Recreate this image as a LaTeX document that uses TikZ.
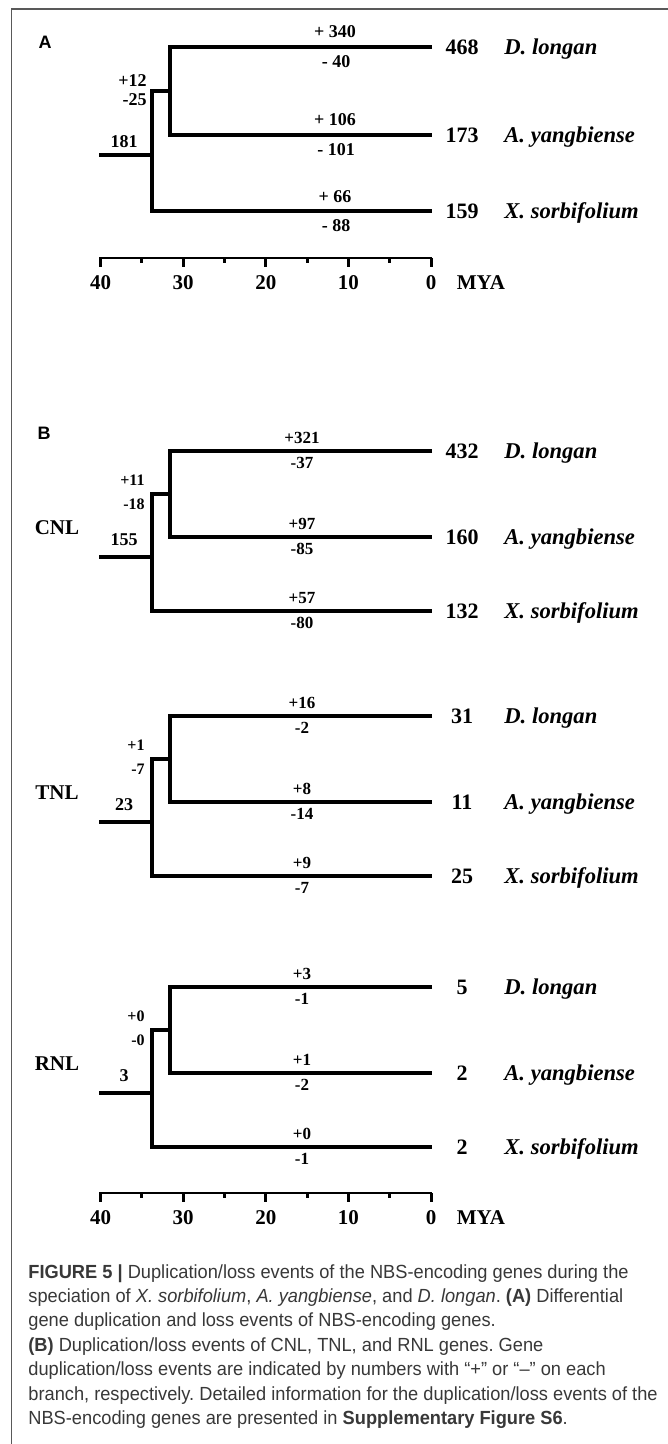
\documentclass[tikz,border=0pt]{standalone}
\usepackage{fontspec}
\setmainfont{Liberation Serif}
\newfontfamily\capsans{Liberation Sans}[FakeStretch=0.96]
\newfontfamily\panelsans{Liberation Sans}
\frenchspacing

\definecolor{framegray}{gray}{0.35}
\definecolor{captext}{gray}{0.22}

\tikzset{
  branch/.style={line width=2.2pt, line join=miter},
  axisline/.style={line width=1.4pt, line cap=rect},
  axtick/.style={line width=1.5pt},
  panel/.style={font=\panelsans\fontsize{9}{9}\selectfont\bfseries, inner sep=0pt},
  cnt/.style={font=\fontsize{11}{11}\selectfont\bfseries, inner sep=0pt, anchor=base},
  spc/.style={font=\fontsize{11.3}{11.3}\selectfont\bfseries\itshape, inner sep=0pt, anchor=base west},
  evtA/.style={font=\fontsize{9}{9}\selectfont\bfseries, inner sep=0pt},
  evtB/.style={font=\fontsize{8.5}{8.5}\selectfont\bfseries, inner sep=0pt},
  rootlbl/.style={font=\fontsize{9}{9}\selectfont\bfseries, inner sep=0pt},
  innA/.style={font=\fontsize{9}{9}\selectfont\bfseries, inner sep=0pt, anchor=east},
  innB/.style={font=\fontsize{8}{8}\selectfont\bfseries, inner sep=0pt, anchor=east},
  grp/.style={font=\fontsize{10.5}{10.5}\selectfont\bfseries, inner sep=0pt},
  axlbl/.style={font=\fontsize{10.5}{10.5}\selectfont\bfseries, inner sep=0pt},
  captxt/.style={font=\capsans\fontsize{9.5}{11}\selectfont, text=captext, inner sep=0pt, anchor=base west},
}

% time axis: #1 name prefix, #2 vertical position
\newcommand\timeaxis[2]{%
  \coordinate (#1-40) at (100.6,#2);
  \coordinate (#1-0) at (431,#2);
  \draw[axisline] (#1-40) -- (#1-0);
  \foreach \t in {0,10,20,30,40}{%
    \draw[axtick] ({431-8.26*\t},#2) -- ++(0,9);
    \node[axlbl] (#1-l\t) at ({431-8.26*\t},{#2+25}) {\t};
  }
  \foreach \t in {5,15,25,35}{%
    \draw[axtick] ({431-8.26*\t},#2) -- ++(0,5);
  }
  \node[axlbl] (#1-mya) at (481,{#2+25}) {MYA};
}

% one gene-class tree: #1 prefix, #2 top branch, #3 class, #4 root count, #5 gain, #6 loss
\newcommand\treeB[6]{%
  \node[grp] (#1-grp) at (57,{#2+77}) {#3};
  \coordinate (#1-base) at (99,{#2+106});
  \coordinate (#1-root) at (152,{#2+106});
  \coordinate (#1-in) at (170,{#2+43});
  \coordinate (#1-dl) at (432,#2);
  \coordinate (#1-ay) at (432,{#2+86});
  \coordinate (#1-xs) at (432,{#2+160});
  \draw[branch] (#1-base) -- (#1-root);
  \draw[branch] (#1-in) -| (#1-root) |- (#1-xs);
  \draw[branch] (#1-dl) -| (#1-in) |- (#1-ay);
  \node[rootlbl] (#1-r) at (124,{#2+89}) {#4};
  \node[innB] (#1-g) at (145,{#2+29}) {#5};
  \node[innB] (#1-l) at (145,{#2+53}) {#6};
}

% tip annotations: #1 prefix, #2 branch height, #3 count, #4 species, #5 gain, #6 loss
\newcommand\tipB[6]{%
  \node[cnt] (#1-n) at (462,{#2+7.3}) {#3};
  \node[spc] (#1-s) at (504,{#2+7.3}) {#4};
  \node[evtB] (#1-g) at (302,{#2-13}) {#5};
  \node[evtB] (#1-l) at (302,{#2+12}) {#6};
}

\begin{document}
\begin{tikzpicture}[x=0.5pt,y=-0.5pt]
\useasboundingbox (0,0) rectangle (668,1444);
\fill[white] (0,0) rectangle (668,1444);

% page frame (top and left rules)
\coordinate (fr-tr) at (668,9);
\coordinate (fr-tl) at (11.5,9);
\coordinate (fr-bl) at (11.5,1444);
\draw[framegray, line width=0.6pt] (fr-tr) -- (fr-tl) -- (fr-bl);

% ---------------- panel A: all NBS-encoding genes ----------------
\node[panel] (lblA) at (45,42) {A};
\coordinate (A-base) at (99,155);
\coordinate (A-root) at (152,155);
\coordinate (A-in) at (170,91);
\coordinate (A-dl) at (432,47);
\coordinate (A-ay) at (432,135);
\coordinate (A-xs) at (432,211);
\draw[branch] (A-base) -- (A-root);
\draw[branch] (A-in) -| (A-root) |- (A-xs);
\draw[branch] (A-dl) -| (A-in) |- (A-ay);

\node[rootlbl] (A-r) at (124,142) {181};
\node[innA] (A-g) at (147,81) {+12};
\node[innA] (A-l) at (147,100) {-25};

\node[evtA] (A-dl-g) at (335,32) {+ 340};
\node[evtA] (A-dl-l) at (336,62) {- 40};
\node[evtA] (A-ay-g) at (335,120) {+ 106};
\node[evtA] (A-ay-l) at (336,150) {- 101};
\node[evtA] (A-xs-g) at (335,197) {+ 66};
\node[evtA] (A-xs-l) at (336,226) {- 88};

\node[cnt] (A-dl-n) at (462,{47+7.3}) {468};
\node[spc] (A-dl-s) at (504,{47+7.3}) {D. longan};
\node[cnt] (A-ay-n) at (462,{135+7.3}) {173};
\node[spc] (A-ay-s) at (504,{135+7.3}) {A. yangbiense};
\node[cnt] (A-xs-n) at (462,{211+7.3}) {159};
\node[spc] (A-xs-s) at (504,{211+7.3}) {X. sorbifolium};

\timeaxis{axA}{258}

% ---------------- panel B: CNL, TNL and RNL genes ----------------
\node[panel] (lblB) at (44,433) {B};

\treeB{CNL}{451}{CNL}{155}{+11}{-18}
\tipB{CNL-dl}{451}{432}{D. longan}{+321}{-37}
\tipB{CNL-ay}{537}{160}{A. yangbiense}{+97}{-85}
\tipB{CNL-xs}{611}{132}{X. sorbifolium}{+57}{-80}

\treeB{TNL}{716}{TNL}{23}{+1}{-7}
\tipB{TNL-dl}{716}{31}{D. longan}{+16}{-2}
\tipB{TNL-ay}{802}{11}{A. yangbiense}{+8}{-14}
\tipB{TNL-xs}{876}{25}{X. sorbifolium}{+9}{-7}

\treeB{RNL}{987}{RNL}{3}{+0}{-0}
\tipB{RNL-dl}{987}{5}{D. longan}{+3}{-1}
\tipB{RNL-ay}{1073}{2}{A. yangbiense}{+1}{-2}
\tipB{RNL-xs}{1147}{2}{X. sorbifolium}{+0}{-1}

\timeaxis{axB}{1193}

% ---------------- caption ----------------
\node[captxt] (cap1) at (28,1278) {{\bfseries FIGURE 5 |} Duplication/loss events of the NBS-encoding genes during the};
\node[captxt] (cap2) at (28,1302.4) {speciation of \textit{X. sorbifolium}, \textit{A. yangbiense}, and \textit{D. longan}. {\bfseries (A)} Differential};
\node[captxt] (cap3) at (28,1326.8) {gene duplication and loss events of NBS-encoding genes.};
\node[captxt] (cap4) at (28,1351.2) {{\bfseries (B)} Duplication/loss events of CNL, TNL, and RNL genes. Gene};
\node[captxt] (cap5) at (28,1375.6) {duplication/loss events are indicated by numbers with “+” or “–” on each};
\node[captxt] (cap6) at (28,1400) {branch, respectively. Detailed information for the duplication/loss events of the};
\node[captxt] (cap7) at (28,1424.4) {NBS-encoding genes are presented in {\bfseries Supplementary Figure S6}.};
\end{tikzpicture}
\end{document}
